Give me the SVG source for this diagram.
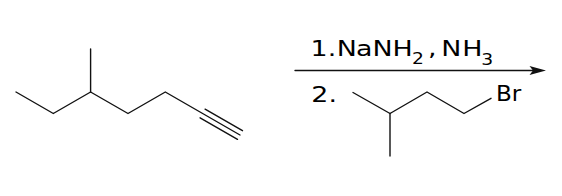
<svg xmlns="http://www.w3.org/2000/svg" width="562" height="196" viewBox="0 0 562 196">
<defs>
<style>
.b{fill:none;stroke:#111;stroke-width:1.4;stroke-linecap:round;stroke-linejoin:round}
.t{font-family:"DejaVu Sans","Liberation Sans",sans-serif;fill:#000}
</style>
</defs>
<rect width="562" height="196" fill="#fff"/>
<g id="reactant">
<polyline class="b" points="16,92 53.3,113.5 90.6,92 128,113.5 165.3,92 240,135"/>
<line class="b" x1="90.6" y1="92" x2="90.6" y2="49"/>
<line class="b" x1="205.1" y1="109.2" x2="242.5" y2="130.7"/>
<line class="b" x1="200.1" y1="117.8" x2="237.5" y2="139.3"/>
</g>
<g id="connectors">
<line class="b" x1="295" y1="70.5" x2="533" y2="70.5"/>
<polygon points="546,70.5 529.5,66 533,70.5 529.5,75" fill="#111"/>
</g>
<g id="reagent1">
<text class="t" font-size="21.5" transform="scale(1.25,1)"><tspan x="248.5" y="56.3" dx="0 0 0 -6.5 -0.56 -0.14 -0.08">1. NaNH</tspan><tspan x="329.6" y="64.5" font-size="15">2</tspan><tspan x="342.48" y="56.3" dx="0 0 -3.12 0.72">, NH</tspan><tspan x="384.96" y="65" font-size="15">3</tspan></text>
</g>
<g id="reagent2">
<text class="t" font-size="21.5" x="249.1" y="102" transform="scale(1.25,1)">2.</text>
<polyline class="b" points="353,92.5 390,113.5 427,92 464,113.5 491,98.3"/>
<line class="b" x1="390" y1="113.5" x2="390" y2="156"/>
<text class="t" font-size="21" x="450.9" y="101" transform="scale(1.1,1)">Br</text>
</g>
</svg>
